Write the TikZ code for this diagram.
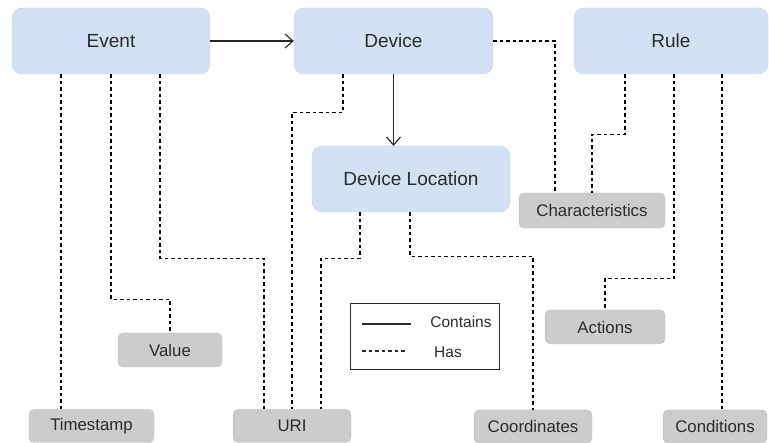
\documentclass[tikz,border=0pt]{standalone}
\usepackage{fontspec}
\setmainfont{Liberation Sans}
\usetikzlibrary{arrows.meta}
\definecolor{bluebox}{HTML}{D4E1F5}
\definecolor{greybox}{HTML}{CCCCCC}
\definecolor{txt}{HTML}{2B2B2B}
\tikzset{
  mainbox/.style={rectangle, rounded corners=10pt, fill=bluebox, draw=bluebox!90!black, line width=0.3pt, inner sep=0pt, text=txt, font=\fontsize{19}{21}\selectfont, minimum height=66pt},
  attrbox/.style={rectangle, rounded corners=5pt, fill=greybox, draw=greybox!92!black, line width=0.3pt, inner sep=0pt, text=txt, font=\fontsize{16.8}{18}\selectfont, minimum height=34pt},
  has/.style={draw=black, line width=1.1pt, dash pattern=on 3.5pt off 3pt},
  contains/.style={draw=black!85, line width=1.1pt, -{Straight Barb[length=8pt,width=14pt,line width=1.1pt]}},
  legtext/.style={text=txt, font=\fontsize{15.5}{17}\selectfont, inner sep=0pt}
}
\begin{document}
\begin{tikzpicture}[x=1pt,y=-1pt]
\useasboundingbox (0,0) rectangle (769,443);
% main entities
\node[mainbox, minimum width=198pt] (event) at (111,41) {Event};
\node[mainbox, minimum width=199pt] (device) at (393.5,41) {Device};
\node[mainbox, minimum width=194pt] (rule) at (671,41) {Rule};
\node[mainbox, minimum width=198pt] (loc) at (411,179) {Device Location};
% attributes
\node[attrbox, minimum width=146pt, minimum height=35pt] (char) at (592,210.5) {Characteristics};
\node[attrbox, minimum width=104pt] (value) at (170,350) {Value};
\node[attrbox, minimum width=120pt] (actions) at (605,327) {Actions};
\node[attrbox, minimum width=125pt, minimum height=33pt] (ts) at (91.5,426) {Timestamp};
\node[attrbox, minimum width=118pt, minimum height=33pt] (uri) at (292,426) {URI};
\node[attrbox, minimum width=118pt, minimum height=33pt] (coord) at (533,426.5) {Coordinates};
\node[attrbox, minimum width=104pt, minimum height=33pt] (cond) at (715,426.5) {Conditions};
% contains
\draw[contains] (event.east) -- (device.west);
\draw[contains] (device.south) -- (device.south |- loc.north);
% has connectors
\draw[has] ([xshift=-50pt]event.south) -- ([xshift=-30.5pt]ts.north);
\draw[has] (event.south) -- ++(0,225) -| (value.north);
\draw[has] ([xshift=49pt]event.south) -- ++(0,184) -| ([xshift=-28pt]uri.north);
\draw[has] ([xshift=-50.5pt]device.south) -- ++(0,38) -| (uri.north);
\draw[has] ([xshift=-51pt]loc.south) -- ++(0,46) -| ([xshift=29pt]uri.north);
\draw[has] ([xshift=-1pt]loc.south) -- ++(0,44) -| (coord.north);
\draw[has] (device.east) -| ([xshift=-37pt]char.north);
\draw[has] ([xshift=-46pt]rule.south) -- ++(0,60) -| (char.north);
\draw[has] ([xshift=3pt]rule.south) -- ++(0,204) -| (actions.north);
\draw[has] ([xshift=51pt]rule.south) -- ([xshift=7pt]cond.north);
% legend
\node[draw=txt, line width=1pt, minimum width=149pt, minimum height=66pt, inner sep=0pt] (legend) at (424.5,337) {};
\coordinate (la) at (362,324);
\coordinate (lb) at (411,324);
\coordinate (lc) at (362,351);
\coordinate (ld) at (407,351);
\draw[draw=txt, line width=1.1pt] (la) -- (lb);
\draw[has, draw=txt] (lc) -- (ld);
\node[legtext] (lcont) at (461,322) {Contains};
\node[legtext] (lhas) at (448,352) {Has};
\end{tikzpicture}
\end{document}
